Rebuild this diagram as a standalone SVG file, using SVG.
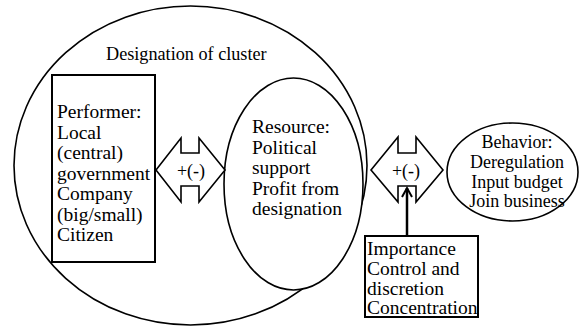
<svg xmlns="http://www.w3.org/2000/svg" width="581" height="328" viewBox="0 0 581 328">
<style>
.t{font-family:'Liberation Serif','Times New Roman',Times,serif;font-size:19.5px;fill:#000}
.m{font-size:18px}
.s{fill:#fff;stroke:#000;stroke-width:1.6}
.b{fill:#fff;stroke:#000;stroke-width:2}
</style>
<rect width="581" height="328" fill="#fff"/>
<g id="cluster">
<ellipse class="s" cx="190.5" cy="165.5" rx="176.5" ry="159.5"/>
<text class="t" x="106" y="60" style="font-size:18.2px">Designation of cluster</text>
</g>
<g id="performer">
<rect class="b" x="52" y="75" width="103" height="187"/>
<text class="t" x="57" y="118">Performer:</text>
<text class="t" x="57" y="138.5">Local</text>
<text class="t" x="57" y="159">(central)</text>
<text class="t" x="57" y="179.5">government</text>
<text class="t" x="57" y="200">Company</text>
<text class="t" x="57" y="220.5">(big/small)</text>
<text class="t" x="57" y="241">Citizen</text>
</g>
<g id="resource">
<ellipse class="s" cx="293.5" cy="184" rx="69.5" ry="106"/>
<text class="t" x="252" y="133">Resource:</text>
<text class="t" x="252" y="153.5">Political</text>
<text class="t" x="252" y="174">support</text>
<text class="t" x="252" y="194.5">Profit from</text>
<text class="t" x="252" y="215">designation</text>
</g>
<g id="arrow1">
<polygon class="s" points="156,170 181,138 181,153 199,153 199,138 225,170 199,202 199,186 181,186 181,202"/>
<text class="t m" x="191" y="176.5" text-anchor="middle">+(-)</text>
</g>
<g id="arrow2">
<polygon class="s" points="371,170 398,137 398,153 416,153 416,137 443,170 416,202 416,186 398,186 398,202"/>
<text class="t m" x="406" y="176.5" text-anchor="middle">+(-)</text>
</g>
<g id="behavior">
<ellipse class="s" cx="512.5" cy="172" rx="65.5" ry="49"/>
<text class="t m" x="517" y="148" text-anchor="middle">Behavior:</text>
<text class="t m" x="517" y="168" text-anchor="middle">Deregulation</text>
<text class="t m" x="517" y="187.5" text-anchor="middle">Input budget</text>
<text class="t m" x="517" y="207" text-anchor="middle">Join business</text>
</g>
<g id="importance">
<rect class="b" x="365" y="236" width="113" height="81"/>
<text class="t" x="367" y="255">Importance</text>
<text class="t" x="367" y="275">Control and</text>
<text class="t" x="367" y="295">discretion</text>
<text class="t" x="367" y="314">Concentration</text>
</g>
<g id="connectors" fill="none" stroke="#000" stroke-width="2.5">
<line x1="407" y1="236" x2="407" y2="188"/>
<polyline points="402,197 407,188 412,197" stroke-width="2"/>
</g>
</svg>
